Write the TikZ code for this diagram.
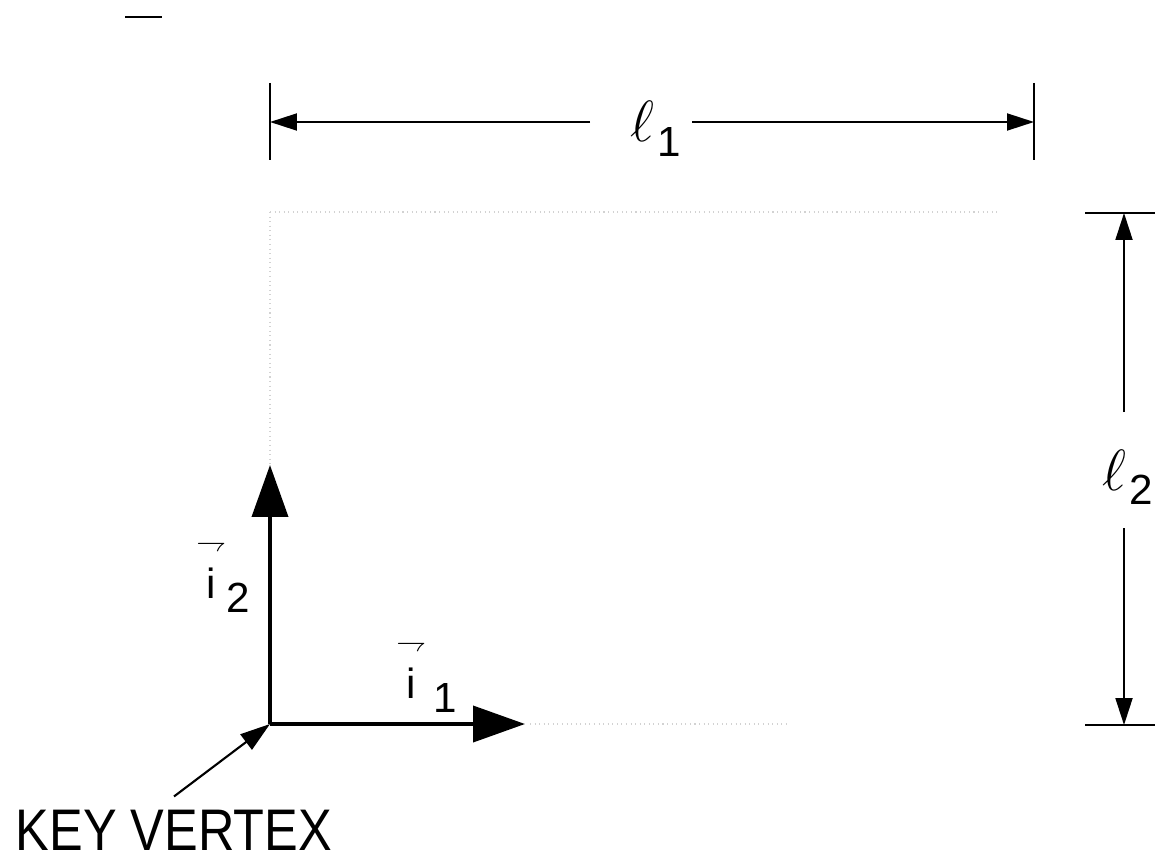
\documentclass[tikz,border=0pt]{standalone}
\usepackage{fontspec}
\setmainfont{Liberation Sans}
\usepackage{amsmath}
\usetikzlibrary{arrows.meta}
\newcommand{\sublab}[3]{#1\hspace{#3}\raisebox{-8.5pt}{\fontsize{24}{26}\selectfont #2}}
\newcommand{\ellab}[1]{\sublab{\fontsize{24}{26}\selectfont\scalebox{1.33}{$\ell$}}{#1}{2pt}}
\newcommand{\veclab}[2]{\sublab{\fontsize{24}{26}\selectfont$\overset{\raisebox{4pt}{$\scriptstyle\rightharpoondown$}}{\mathrm{i}}$}{#1}{#2}}
\tikzset{
  dimen/.style={line width=1.1pt,-{Triangle[length=0.54cm,width=0.34cm]}},
  axis/.style={line width=2.2pt,-{Triangle[length=1.04cm,width=0.72cm]}},
  pointer/.style={line width=1.2pt,-{Triangle[length=0.6cm,width=0.38cm]}},
  tick/.style={line width=1.1pt},
  faint/.style={gray!35,dotted,line width=0.6pt},
  lab/.style={inner sep=0pt,anchor=base west},
}
\begin{document}
\begin{tikzpicture}[x=0.02cm,y=-0.02cm]
\useasboundingbox (0,0) rectangle (1155,858);
% stray mark
\draw[tick] (125,17) -- (162,17);
% faint outline of the face
\draw[faint] (270,212) -- (1000,212);
\draw[faint] (270,212) -- (270,465);
\draw[faint] (530,724) -- (790,724);
% width l1
\coordinate (l1a) at (270,122);
\coordinate (l1b) at (1034,122);
\coordinate (l1gapL) at (590,122);
\coordinate (l1gapR) at (692,122);
\draw[tick] (270,83) -- (270,160);
\draw[tick] (1034,83) -- (1034,160);
\draw[dimen] (l1gapL) -- (l1a);
\draw[dimen] (l1gapR) -- (l1b);
\node[lab] (l1) at (630,142) {\ellab{1}};
% height l2
\coordinate (l2a) at (1124,213);
\coordinate (l2b) at (1124,725);
\coordinate (l2gapT) at (1124,412);
\coordinate (l2gapB) at (1124,528);
\draw[tick] (1085,213) -- (1155,213);
\draw[tick] (1085,725) -- (1155,725);
\draw[dimen] (l2gapT) -- (l2a);
\draw[dimen] (l2gapB) -- (l2b);
\node[lab] (l2) at (1102,490) {\ellab{2}};
% unit vectors
\coordinate (O) at (270,724);
\coordinate (i1tip) at (525,724);
\coordinate (i2tip) at (270,465);
\draw[axis] (O) -- (i1tip);
\draw[axis] (O) -- (i2tip);
\node[lab] (i1) at (396,698) {\veclab{1}{4pt}};
\node[lab] (i2) at (196,598) {\veclab{2}{0pt}};
% key vertex
\node[inner sep=0pt] (key) at (174,830) {\fontsize{33.4}{36}\selectfont\scalebox{0.86}[1]{KEY VERTEX}};
\draw[pointer] (key.north) ++(0,-13) -- (O);
\end{tikzpicture}
\end{document}
